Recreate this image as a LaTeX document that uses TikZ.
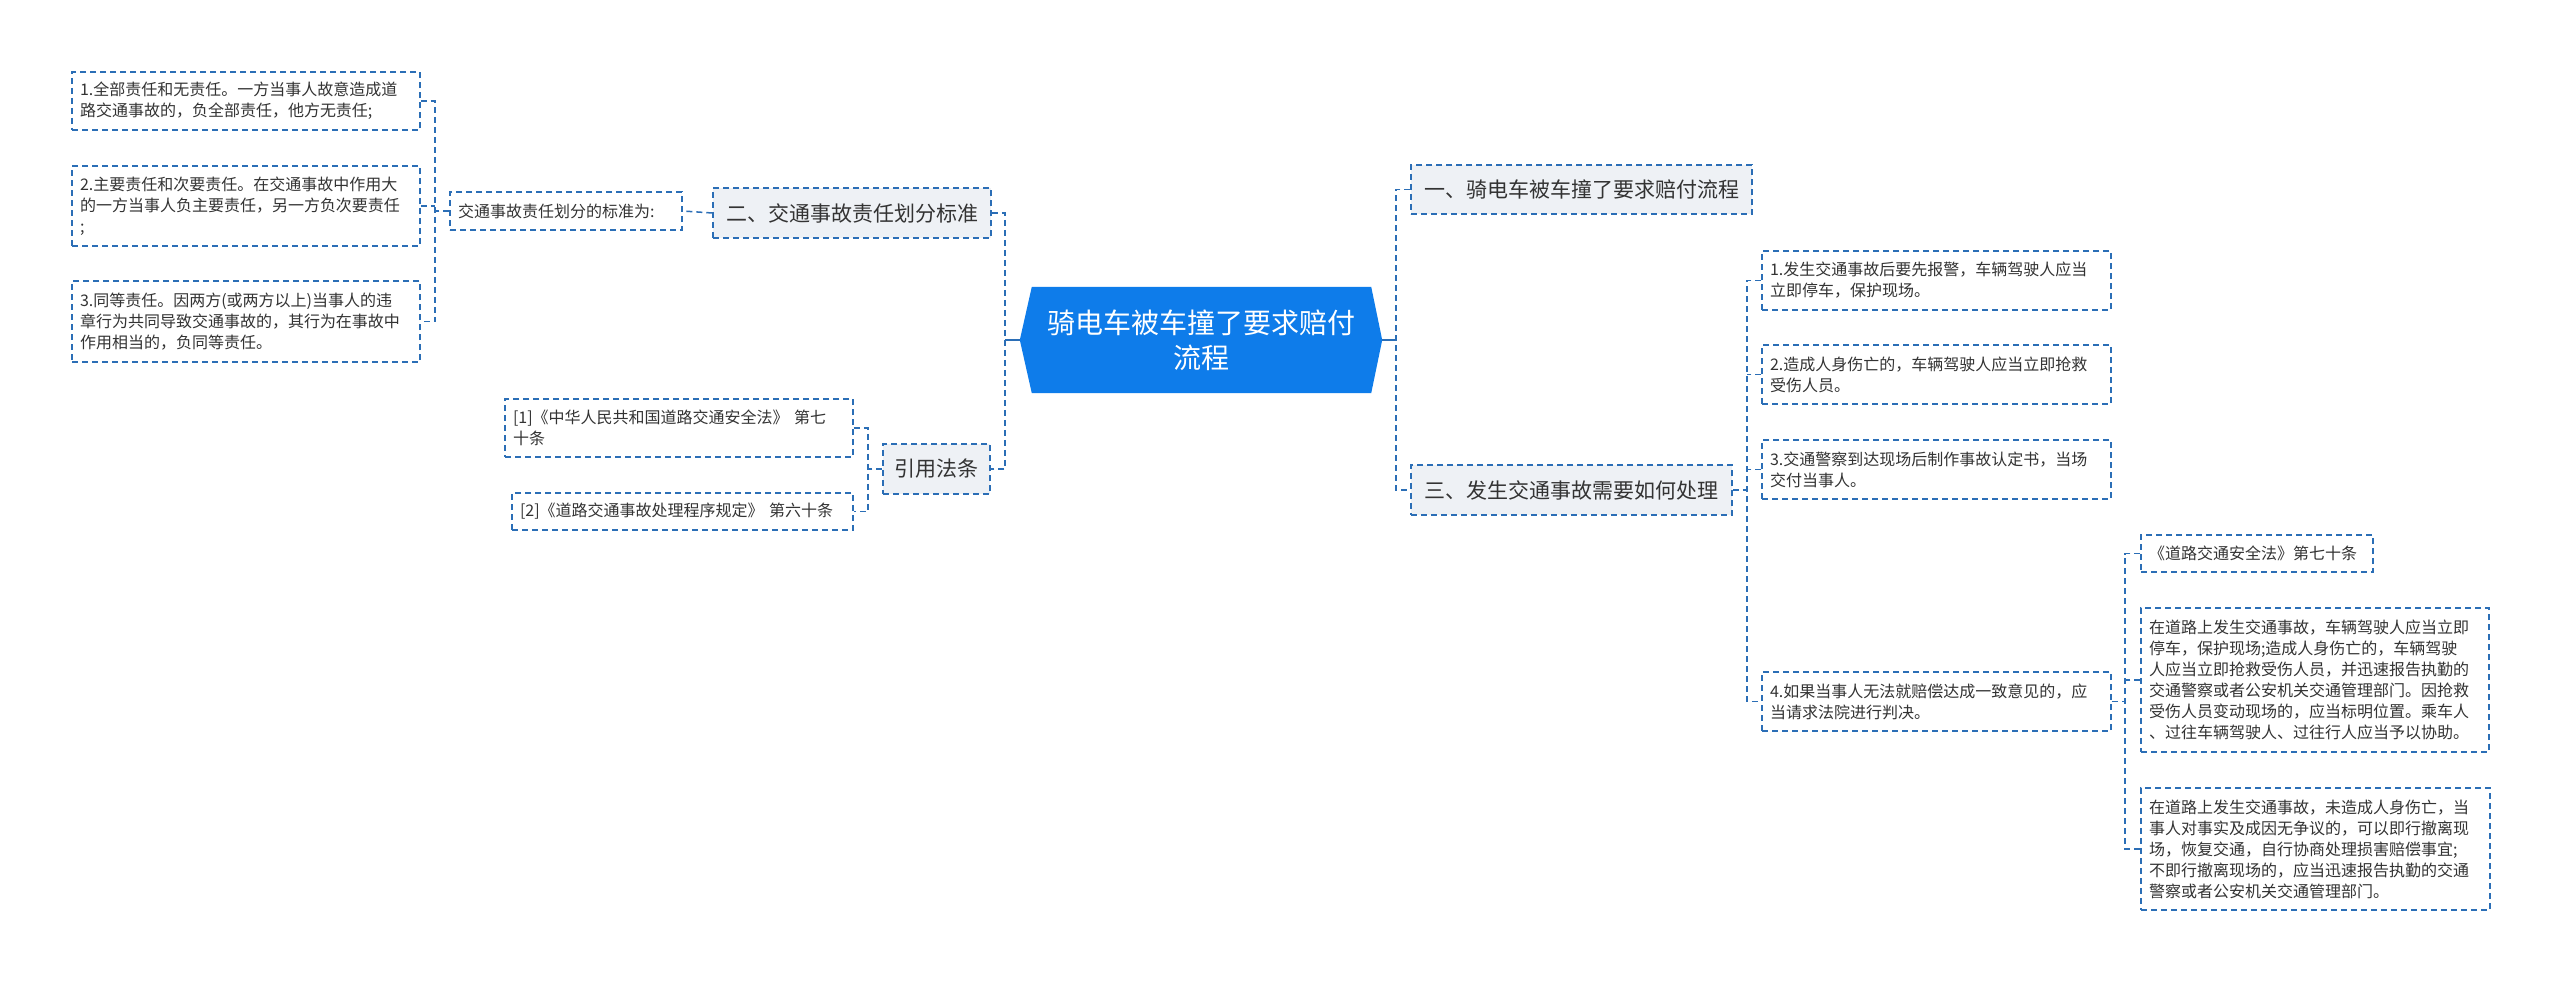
\documentclass[tikz,border=0pt]{standalone}
\usepackage{fontspec}
\setmainfont{Noto Sans CJK SC}
\usetikzlibrary{backgrounds}
\definecolor{lc}{RGB}{43,110,182}
\definecolor{rootc}{RGB}{14,124,234}
\definecolor{fc}{RGB}{238,241,245}
\definecolor{tc}{RGB}{51,51,51}
\begin{document}
\begin{tikzpicture}[x=1pt,y=-1pt,
  conn/.style={draw=lc, line width=1.5pt, dash pattern=on 6pt off 4pt},
  stub/.style={draw=lc, line width=1.5pt},
  leaf/.style={draw=lc, line width=1.5pt, dash pattern=on 6pt off 4pt, inner xsep=8pt, inner ysep=0pt, align=left, text=tc, font=\fontsize{16}{21}\selectfont},
  lvl/.style={leaf, fill=fc, align=center, font=\fontsize{21}{26}\selectfont},
  rootn/.style={inner sep=0pt, align=center, text=white, font=\fontsize{28}{35}\selectfont}
]
\useasboundingbox (0,0) rectangle (2560,982);

% root
\node[rootn, minimum width=362pt, minimum height=106pt] (root) at (1201,340) {骑电车被车撞了要求赔付\\流程};
\begin{pgfonlayer}{background}
\fill[white] (0,0) rectangle (2560,982);
\fill[rootc] (root.west) -- ([xshift=12pt]root.north west) -- ([xshift=-11pt]root.north east) -- (root.east) -- ([xshift=-11pt]root.south east) -- ([xshift=12pt]root.south west) -- cycle;
\end{pgfonlayer}

% left branch
\node[lvl, minimum width=278pt, minimum height=50pt] (er) at (852,213) {二、交通事故责任划分标准};
\node[leaf, minimum width=232pt, minimum height=38pt, text width=216pt] (mid) at (566,211) {交通事故责任划分的标准为:};
\node[leaf, minimum width=348pt, minimum height=58pt, text width=332pt] (L1) at (246,101) {1.全部责任和无责任。一方当事人故意造成道\\路交通事故的，负全部责任，他方无责任;};
\node[leaf, minimum width=348pt, minimum height=80pt, text width=332pt] (L2) at (246,206) {2.主要责任和次要责任。在交通事故中作用大\\的一方当事人负主要责任，另一方负次要责任\\;};
\node[leaf, minimum width=348pt, minimum height=81pt, text width=332pt] (L3) at (246,321.5) {3.同等责任。因两方(或两方以上)当事人的违\\章行为共同导致交通事故的，其行为在事故中\\作用相当的，负同等责任。};

\node[lvl, minimum width=107pt, minimum height=50pt] (yy) at (936.5,469) {引用法条};
\node[leaf, minimum width=348pt, minimum height=58pt, text width=332pt] (ref1) at (679,428) {[1]《中华人民共和国道路交通安全法》 第七\\十条};
\node[leaf, minimum width=341pt, minimum height=37pt, text width=325pt] (ref2) at (682.5,511.5) {[2]《道路交通事故处理程序规定》 第六十条};

% right branch
\node[lvl, minimum width=341pt, minimum height=49pt] (yi) at (1581.5,189.5) {一、骑电车被车撞了要求赔付流程};
\node[lvl, minimum width=321pt, minimum height=50pt] (san) at (1571.5,490) {三、发生交通事故需要如何处理};

\node[leaf, minimum width=349pt, minimum height=59pt, text width=333pt] (R1) at (1936.5,280.5) {1.发生交通事故后要先报警，车辆驾驶人应当\\立即停车，保护现场。};
\node[leaf, minimum width=349pt, minimum height=59pt, text width=333pt] (R2) at (1936.5,374.5) {2.造成人身伤亡的，车辆驾驶人应当立即抢救\\受伤人员。};
\node[leaf, minimum width=349pt, minimum height=59pt, text width=333pt] (R3) at (1936.5,469.5) {3.交通警察到达现场后制作事故认定书，当场\\交付当事人。};
\node[leaf, minimum width=349pt, minimum height=59pt, text width=333pt] (R4) at (1936.5,701.5) {4.如果当事人无法就赔偿达成一致意见的，应\\当请求法院进行判决。};

\node[leaf, minimum width=232pt, minimum height=37pt, text width=216pt] (C1) at (2257,553.5) {《道路交通安全法》第七十条};
\node[leaf, minimum width=348pt, minimum height=144pt, text width=332pt] (C2) at (2315,680) {在道路上发生交通事故，车辆驾驶人应当立即\\停车，保护现场;造成人身伤亡的，车辆驾驶\\人应当立即抢救受伤人员，并迅速报告执勤的\\交通警察或者公安机关交通管理部门。因抢救\\受伤人员变动现场的，应当标明位置。乘车人\\、过往车辆驾驶人、过往行人应当予以协助。};
\node[leaf, minimum width=349pt, minimum height=122pt, text width=333pt] (C3) at (2315.5,849) {在道路上发生交通事故，未造成人身伤亡，当\\事人对事实及成因无争议的，可以即行撤离现\\场，恢复交通，自行协商处理损害赔偿事宜;\\不即行撤离现场的，应当迅速报告执勤的交通\\警察或者公安机关交通管理部门。};

% spine coordinates
\coordinate (sA) at (435,211);
\coordinate (sB) at (868,469);
\coordinate (sL) at (1005,340);
\coordinate (sR) at (1396,340);
\coordinate (sC) at (1747,490);
\coordinate (sD) at (2125,701.5);

% connectors
\draw[stub] (root.west) -- (sL);
\draw[conn] (er.east) -| (sL) |- (yy.east);
\draw[conn] (er.west) -- (mid.east);
\draw[conn] (L1.east) -| (sA) |- (L3.east);
\draw[conn] (L2.east) -- (L2.east -| sA);
\draw[conn] (mid.west) -- (sA);
\draw[conn] (ref1.east) -| (sB) |- (ref2.east);
\draw[conn] (yy.west) -- (sB);

\draw[stub] (root.east) -- (sR);
\draw[conn] (yi.west) -| (sR) |- (san.west);
\draw[conn] (R1.west) -| (sC) |- (R4.west);
\draw[conn] (R2.west) -- (R2.west -| sC);
\draw[conn] (R3.west) -- (R3.west -| sC);
\draw[conn] (san.east) -- (sC);
\draw[conn] (C1.west) -| (sD) |- (C3.west);
\draw[conn] (C2.west) -- (C2.west -| sD);
\draw[conn] (R4.east) -- (sD);
\end{tikzpicture}
\end{document}
